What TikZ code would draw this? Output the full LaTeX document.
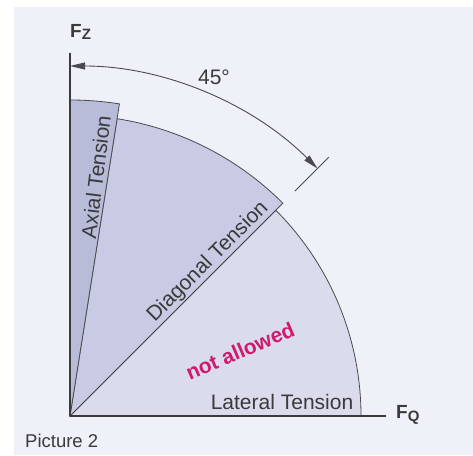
\documentclass[tikz,border=0pt]{standalone}
\usepackage{fontspec}
\setmainfont{Liberation Sans}
\usetikzlibrary{arrows.meta}
\definecolor{panel}{HTML}{EFF1F8}
\definecolor{latfill}{HTML}{DADCEE}
\definecolor{diagfill}{HTML}{C8CBE3}
\definecolor{axfill}{HTML}{B8BCD9}
\definecolor{ink}{HTML}{3A3A3A}
\definecolor{edge}{HTML}{4A4A50}
\definecolor{warn}{HTML}{D01A6C}
\tikzset{
  sector/.style={draw=edge, line width=0.8pt},
  axis/.style={draw=ink, line width=2pt},
  lbl/.style={text=ink, font=\fontsize{21}{25}\selectfont, inner sep=0pt},
  axlbl/.style={text=ink, font=\bfseries\fontsize{19}{21}\selectfont, inner sep=0pt, anchor=base west},
  dim/.style={draw=edge, line width=0.9pt}
}
\begin{document}
\begin{tikzpicture}[x=1pt,y=1pt]
\useasboundingbox (-70,-39) rectangle (403,416);
\fill[white] (-70,-39) rectangle (403,416);
\fill[panel] (-56,-39) rectangle (403,409);
\coordinate (O) at (0,0);
% sectors
\filldraw[sector, fill=latfill] (O) -- (0:291) arc[start angle=0, end angle=45, radius=291] -- cycle;
\filldraw[sector, fill=diagfill] (O) -- (45:301) arc[start angle=45, end angle=81, radius=301] -- cycle;
\filldraw[sector, fill=axfill] (O) -- (81:316) arc[start angle=81, end angle=90, radius=316] -- cycle;
% axes
\coordinate (zend) at (0,363);
\coordinate (qend) at (316,0);
\draw[axis] (O) -- (zend);
\draw[axis] (O) -- (qend);
% dimension
\coordinate (a1) at (90:350);
\coordinate (e1) at (45:318);
\coordinate (e2) at (45:366);
\draw[dim] (e1) -- (e2);
\draw[dim, {Triangle[length=15pt,width=7pt]}-{Triangle[length=15pt,width=7pt]}] (a1) arc[start angle=90, end angle=45, radius=350];
% labels
\node[lbl] (deg) at (144,339) {45°};
\node[lbl, rotate=83] (axial) at (26,239) {Axial Tension};
\node[lbl, rotate=45] (diag) at (138,154) {Diagonal Tension};
\node[lbl, text=warn, font=\bfseries\fontsize{21}{25}\selectfont, rotate=23] (na) at (170,65) {not allowed};
\node[lbl] (lat) at (212,14) {Lateral Tension};
\node[axlbl] (fz) at (0,378) {F\raisebox{-2pt}{\fontsize{15}{17}\selectfont Z}};
\node[axlbl] (fq) at (326,-2) {F\raisebox{-3pt}{\fontsize{15}{17}\selectfont Q}};
\node[text=ink, font=\fontsize{18.5}{22}\selectfont, inner sep=0pt, anchor=west] (pic) at (-45,-25) {Picture 2};
\end{tikzpicture}
\end{document}
